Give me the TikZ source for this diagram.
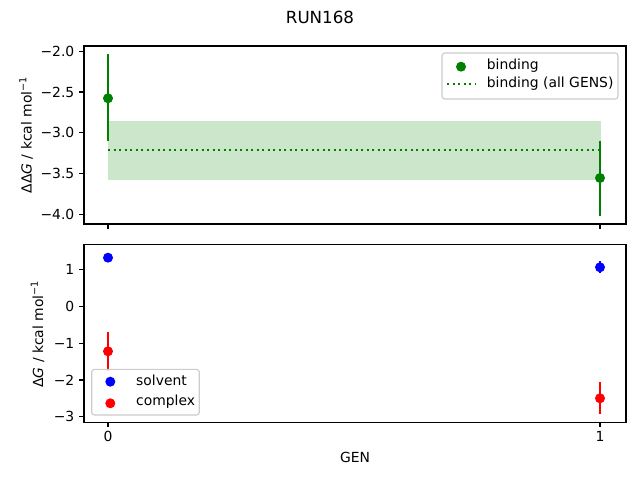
\documentclass[tikz,border=0pt]{standalone}
\usepackage{fontspec}
\setmainfont{DejaVu Sans}
\definecolor{mgreen}{HTML}{008000}
\definecolor{mband}{HTML}{CCE6CC}
\definecolor{mblue}{HTML}{0000FF}
\definecolor{mred}{HTML}{FF0000}
\definecolor{legedge}{HTML}{CCCCCC}
\begin{document}
\begin{tikzpicture}[x=1pt,y=-1pt,
  txt/.style={font=\fontsize{13.9}{16}\selectfont, inner sep=0pt},
  ylbl/.style={txt, anchor=east},
  xlbl/.style={txt, anchor=north},
  axbox/.style={draw=black, line width=1.11pt},
  tickmark/.style={line width=1.11pt},
  ebar/.style={line width=2.08pt},
  dot/.style={circle, inner sep=0pt, minimum size=10pt},
  legbox/.style={draw=legedge, fill=white, fill opacity=0.8, draw opacity=1, line width=1.11pt, rounded corners=2.8pt},
  dottedln/.style={line width=2.08pt, dash pattern=on 2.1pt off 3.4pt}
]
\useasboundingbox (0,0) rectangle (640,480);
\fill[white] (0,0) rectangle (640,480);

% title
\node[txt, font=\fontsize{16.7}{19}\selectfont] (title) at (320,17) {RUN168};

% ---------- top axes ----------
\fill[mband] (108,120.7) rectangle (600.7,179.7);
\draw[mgreen, dottedln] (108,149.7) -- (600,149.7);
\draw[mgreen, ebar] (108,54) -- (108,140.7);
\draw[mgreen, ebar] (600,140.7) -- (600,215.7);
\node[dot, fill=mgreen] (b0) at (108,98.3) {};
\node[dot, fill=mgreen] (b1) at (600,178) {};
\draw[axbox] (84,46) rectangle (626,224);
\foreach \v/\yy in {{−2.0}/51.3,{−2.5}/92.0,{−3.0}/132.7,{−3.5}/173.4,{−4.0}/214.1}{
  \draw[tickmark] (84,\yy) -- (79.1,\yy);
  \node[ylbl] at (74.5,\yy) {\v};
}
\draw[tickmark] (108,224) -- (108,228.9);
\draw[tickmark] (600,224) -- (600,228.9);
\node[txt, rotate=90] (ylabtop) at (26,135) {ΔΔ\textit{G} / kcal mol\textsuperscript{−1}};

% top legend
\draw[legbox] (442,53) rectangle (618,99);
\node[dot, fill=mgreen] (legb) at (461,66.7) {};
\node[txt, anchor=west] (legbt) at (486.7,65.5) {binding};
\coordinate (lda) at (447,84.3);
\coordinate (ldb) at (475,84.3);
\draw[mgreen, dottedln] (lda) -- (ldb);
\node[txt, anchor=west] (legat) at (486.7,84) {binding (all GENS)};

% ---------- bottom axes ----------
\draw[mblue, ebar] (108,255.5) -- (108,260);
\draw[mblue, ebar] (600,261.3) -- (600,273.3);
\draw[mred, ebar] (108,331.7) -- (108,370.9);
\draw[mred, ebar] (600,382) -- (600,413.7);
\node[dot, fill=mblue] (s0) at (108,257.7) {};
\node[dot, fill=mblue] (s1) at (600,267.3) {};
\node[dot, fill=mred] (c0) at (108,351.3) {};
\node[dot, fill=mred] (c1) at (600,398.3) {};
\draw[axbox] (84,244.3) rectangle (626,422.3);
\foreach \v/\yy in {1/269.3,0/306.2,{−1}/343.1,{−2}/380.0,{−3}/416.9}{
  \draw[tickmark] (84,\yy) -- (79.1,\yy);
  \node[ylbl] at (74.5,\yy) {\v};
}
\draw[tickmark] (108,422.3) -- (108,427.2);
\draw[tickmark] (600,422.3) -- (600,427.2);
\node[xlbl] (x0) at (108,431) {0};
\node[xlbl] (x1) at (600,431) {1};
\node[txt] (xlab) at (355,457) {GEN};
\node[txt, rotate=90] (ylabbot) at (37.5,334) {Δ\textit{G} / kcal mol\textsuperscript{−1}};

% bottom legend
\draw[legbox] (91.7,369.3) rectangle (199.3,415);
\node[dot, fill=mblue] (legs) at (110.3,381.7) {};
\node[txt, anchor=west] (legst) at (136,380.5) {solvent};
\node[dot, fill=mred] (legc) at (110.3,403.3) {};
\node[txt, anchor=west] (legct) at (136,402) {complex};
\end{tikzpicture}
\end{document}
